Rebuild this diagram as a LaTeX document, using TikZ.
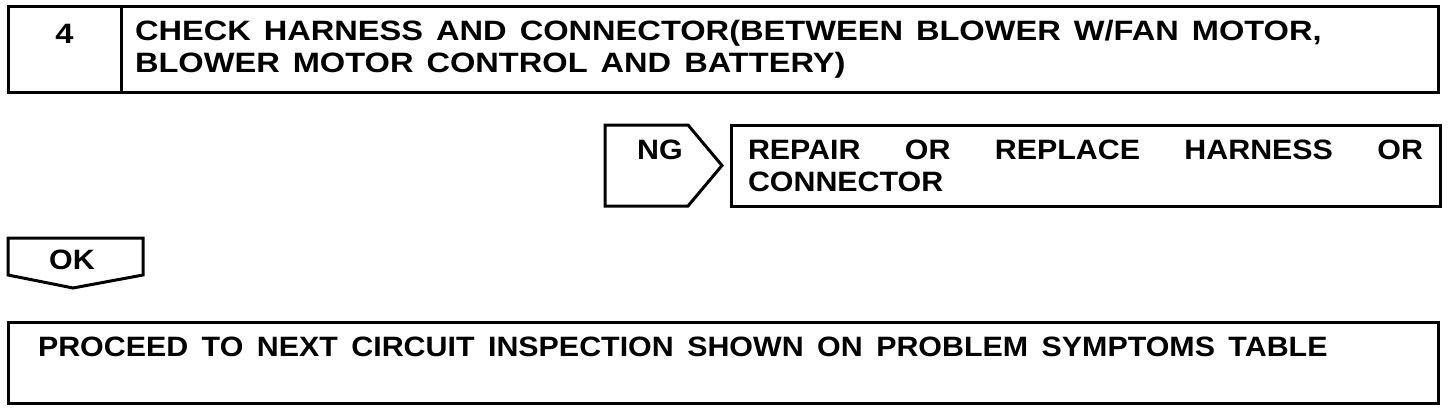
\documentclass[tikz,border=0pt]{standalone}
\usepackage{fontspec}
\setmainfont{Liberation Sans}[FakeStretch=1.085]
\newfontfamily\headfont{Liberation Sans}[FakeStretch=1.164]
\usetikzlibrary{positioning}
\hyphenpenalty=10000
\tolerance=10000

\begin{document}
\begin{tikzpicture}[x=1pt,y=-1pt,line width=3pt,
          stepbox/.style={rectangle,draw,line width=3pt,outer sep=0pt,
                          inner xsep=14pt,inner ysep=0pt,anchor=north west,
                          font=\bfseries\fontsize{28}{32}\selectfont},
          headbox/.style={stepbox,minimum height=85pt,
                          font=\headfont\bfseries\fontsize{28}{32}\selectfont},
          resbox/.style={stepbox,inner xsep=17pt,minimum height=81pt},
          tagtext/.style={font=\bfseries\fontsize{28}{32}\selectfont,inner sep=0pt},
        ]
        \useasboundingbox (0,0) rectangle (1456,412);
        % step header
        \node[headbox,minimum width=113pt,inner xsep=0pt,align=center] (num) at (8,7){4\\~};
        \node[headbox,text width=1289pt,align=left,
              execute at begin node={\spaceskip=13pt\relax}] (title) at (121,7)
          {CHECK HARNESS AND CONNECTOR(BETWEEN BLOWER W/FAN MOTOR,\\
           BLOWER MOTOR CONTROL AND BATTERY)};
        % NG branch
        \draw (605,125) -- (688,125) -- (722,165.5) -- (688,206) -- (605,206) -- cycle;
        \node[tagtext] (ng) at (660,150){NG};
        \node[resbox,text width=675pt,align=justify] (repair) at (731,125)
          {REPAIR OR REPLACE HARNESS OR CONNECTOR};
        % OK branch
        \draw (8,238) -- (143,238) -- (143,275) -- (73,288) -- (8,275) -- cycle;
        \node[tagtext] (ok) at (72,260){OK};
        \node[resbox,inner xsep=30pt,text width=1370pt,align=left,
              execute at begin node={\spaceskip=13.5pt\relax}] (next) at (8,322)
          {PROCEED TO NEXT CIRCUIT INSPECTION SHOWN ON PROBLEM SYMPTOMS TABLE\\~};
\end{tikzpicture}
\end{document}
